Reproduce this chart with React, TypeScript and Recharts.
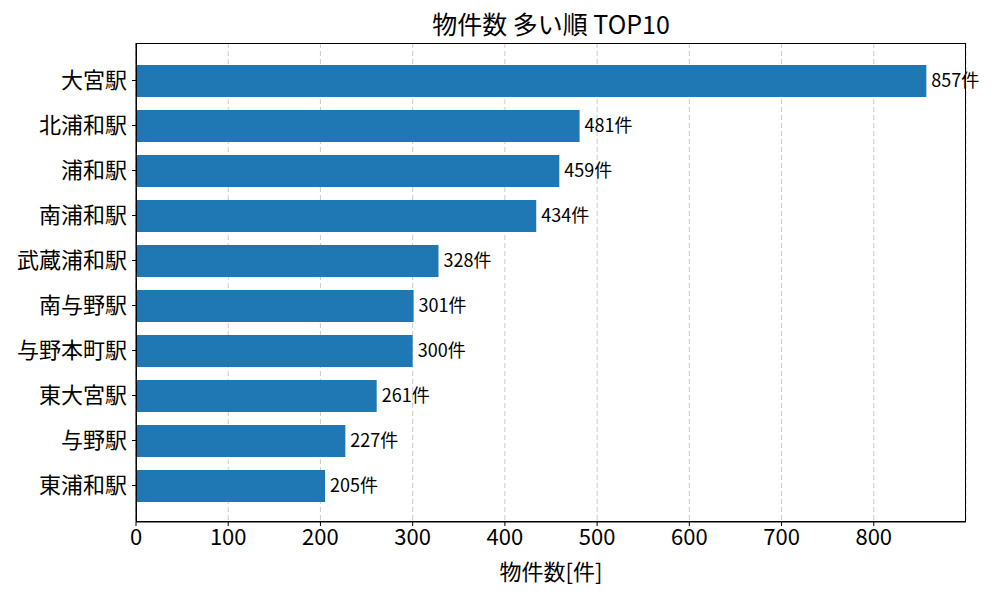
import { BarChart, Bar, XAxis, YAxis, CartesianGrid, LabelList, Label } from "recharts";

const stations = [
  "大宮駅", "北浦和駅", "浦和駅", "南浦和駅", "武蔵浦和駅",
  "南与野駅", "与野本町駅", "東大宮駅", "与野駅", "東浦和駅",
];
const counts = [857, 481, 459, 434, 328, 301, 300, 261, 227, 205];
const xTicks = [0, 100, 200, 300, 400, 500, 600, 700, 800];

const data = stations.map((name, i) => ({ name, count: counts[i] }));

const FONT = "'Noto Sans CJK JP', 'Noto Sans', sans-serif";

export default function App() {
  return (
    <div style={{ position: "absolute", left: 0, top: 0, width: 1000, height: 600, background: "#fff", fontFamily: FONT }}>
      <div style={{ position: "absolute", left: 136, width: 830, top: 5, textAlign: "center", fontSize: 25, color: "#000" }}>
        物件数 多い順 TOP10
      </div>
      <BarChart
        width={1000}
        height={600}
        data={data}
        layout="vertical"
        margin={{ top: 43, right: 34, bottom: 0, left: 0 }}
      >
        <CartesianGrid horizontal={false} stroke="#cccccc" strokeDasharray="5 3" />
        <XAxis
          type="number"
          domain={[0, 900]}
          ticks={xTicks}
          allowDataOverflow
          height={78}
          tick={{ fontSize: 22, fill: "#000", fontFamily: FONT }}
          tickLine={{ stroke: "#000" }}
          axisLine={{ stroke: "#000" }}
          tickSize={4}
          tickMargin={3}
        >
          <Label value="物件数[件]" position="insideBottom" offset={20} style={{ fontSize: 22, fill: "#000", fontFamily: FONT }} />
        </XAxis>
        <YAxis
          type="category"
          dataKey="name"
          width={136}
          padding={{ top: 15, bottom: 14 }}
          tick={{ fontSize: 22, fill: "#000", fontFamily: FONT }}
          tickLine={{ stroke: "#000" }}
          axisLine={{ stroke: "#000" }}
          tickSize={4}
          tickMargin={5}
          interval={0}
        />
        <Bar dataKey="count" fill="#1f77b4" barSize={32} isAnimationActive={false}>
          <LabelList
            dataKey="count"
            position="right"
            offset={5}
            formatter={(v: any) => `${v}件`}
            style={{ fontSize: 18, fill: "#000", fontFamily: FONT }}
          />
        </Bar>
      </BarChart>
      <div style={{ position: "absolute", left: 136, top: 43, width: 830, height: 479, border: "1px solid #000", boxSizing: "border-box", pointerEvents: "none" }} />
    </div>
  );
}
